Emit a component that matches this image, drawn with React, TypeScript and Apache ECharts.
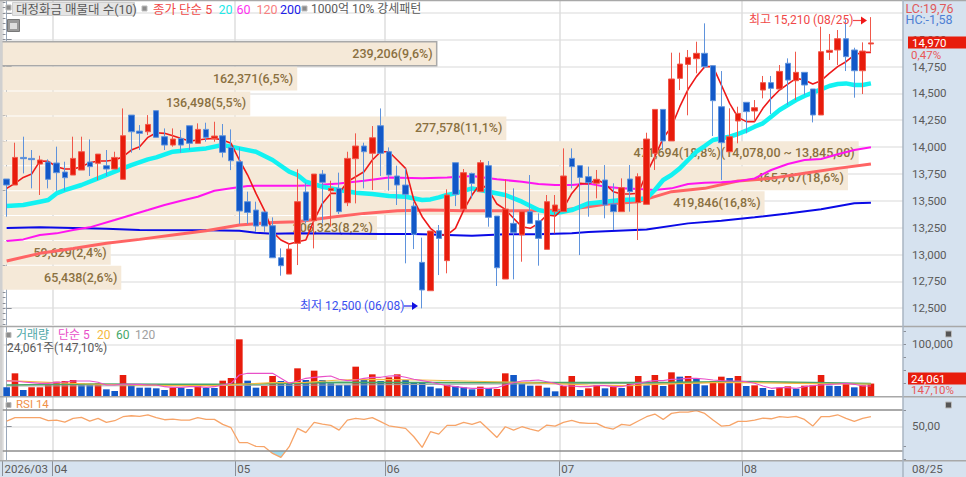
import React, { useEffect, useRef } from "react";
import * as echarts from "echarts";

const FONT = 'Roboto,"Noto Sans CJK KR",sans-serif';
const LABEL_FONT = 'Roboto,"Noto Sans CJK KR",sans-serif';

// [open, close, low, high]
const candles: number[][] = [
  [13703,13647,13352,13703],[13647,13904,13647,14041],[13904,13892,13755,14097],[13895,13883,13616,13973],[13842,13880,13554,13920],
  [13861,13700,13616,13886],[13852,13762,13594,14004],[13768,13715,13594,13864],[13740,13895,13740,14097],[13786,13957,13786,14097],
  [13861,13818,13731,14072],[13849,13935,13693,13935],[13827,13796,13731,13973],[13796,13904,13796,13957],[13700,14106,13700,14360],
  [14298,14143,13948,14298],[14149,14128,13973,14205],[14143,14211,14112,14298],[14339,14091,14091,14339],[14097,14019,13973,14174],
  [14019,14075,14004,14174],[14081,14019,13948,14159],[14199,14035,13973,14199],[14035,14165,14035,14221],[14165,14091,14050,14227],
  [14081,14103,14050,14236],[14106,13951,13904,14215],[13997,13873,13786,14165],[13864,13405,13284,13997],[13492,13392,13284,13585],
  [13414,13265,13212,13492],[13396,13265,13212,13396],[13268,12970,12970,13346],[12970,12896,12803,13057],[12818,13051,12818,13104],
  [13104,13492,12902,13793],[13582,13315,13290,13669],[13315,13749,13057,13749],[13749,13672,13290,13786],[13594,13616,13259,13687],
  [13616,13399,13377,13762],[13482,13895,13451,13957],[13892,14010,13476,14128],[14010,13957,13616,14041],[13942,14087,13600,14196],
  [14199,13942,13731,14360],[13957,13740,13594,13997],[13731,13647,13461,13827],[13647,13560,12918,13802],[13451,13188,13051,13492],
  [12927,12670,12499,13157],[12663,13219,12663,13219],[13222,13150,12809,13275],[12943,13554,12825,13607],[13855,13560,13451,13855],
  [13423,13762,13423,13796],[13755,13662,13523,13762],[13585,13855,13585,13880],[13827,13346,13259,13870],[13358,12877,12707,13358],
  [12772,13423,12772,13700],[13290,13206,12769,13616],[13182,13399,12933,13399],[13399,13290,13284,13740],[13315,13150,12896,13383],
  [13048,13492,13048,13554],[13399,13461,13197,13554],[13399,13731,13399,13988],[13895,13818,13616,13988],[13827,13718,12995,13827],
  [13725,13669,13352,13818],[13663,13700,13523,13787],[13694,13461,13337,13833],[13470,13399,13228,13663],[13399,13622,13399,13709],
  [13703,13585,13399,13833],[13483,13725,13135,13756],[13467,14075,13467,14134],[13942,14351,13787,14351],[14351,14057,13973,14351],
  [14057,14634,14057,14879],[14640,14773,14531,14879],[14770,14835,14296,14904],[14823,14873,14687,14981],[14873,14749,14733,15152],
  [14758,14432,14103,14758],[14376,14041,13694,14708],[13957,14097,13957,14361],[14243,14314,14035,14376],[14417,14330,14128,14417],
  [14336,14367,14237,14438],[14531,14600,14454,14662],[14600,14547,14308,14662],[14541,14705,14531,14764],[14780,14624,14392,14826],
  [14618,14696,14438,14888],[14696,14578,14485,14696],[14541,14299,14230,14541],[14299,14888,14299,15121],[14882,14901,14811,15053],
  [14904,15009,14764,15090],[15009,14842,14708,15189],[14904,14711,14460,14925],[14711,14894,14494,14975],[14960,14970,14888,15210],
];

const ma5 = [13616,13662,13718,13749,13870,13867,13818,13796,13796,13818,13855,13870,13870,13880,13911,13973,14004,14091,14134,14128,14106,14081,14056,14066,14075,14081,14066,14035,13880,13740,13569,13414,13212,13135,13098,13119,13135,13321,13476,13569,13569,13678,13724,13771,13880,13957,13957,13880,13802,13507,13352,13244,13182,13182,13244,13414,13554,13662,13600,13470,13420,13337,13259,13244,13290,13368,13358,13430,13569,13662,13657,13700,13657,13585,13563,13563,13570,13756,13911,14082,14190,14376,14538,14656,14749,14749,14578,14407,14277,14237,14237,14361,14454,14531,14587,14640,14624,14587,14618,14686,14749,14795,14857,14882,14882];

// moving averages read at sample sessions: [session, price]
const ma20: number[][] = [[0,13452],[2,13461],[4,13492],[5,13507],[6,13569],[7,13600],[9,13647],[11,13709],[13,13771],[15,13833],[17,13886],[18,13904],[20,13957],[22,13973],[24,13988],[26,14019],[28,13988],[30,13957],[32,13880],[34,13771],[35,13740],[36,13678],[38,13631],[40,13600],[42,13575],[44,13563],[46,13544],[48,13538],[50,13507],[51,13513],[52,13532],[53,13554],[54,13569],[56,13616],[58,13585],[60,13554],[62,13492],[64,13414],[66,13383],[68,13414],[70,13476],[72,13492],[74,13508],[76,13514],[77,13523],[78,13601],[79,13694],[80,13740],[81,13802],[82,13880],[83,13957],[84,14010],[85,14066],[86,14082],[87,14097],[88,14122],[89,14153],[90,14190],[91,14221],[92,14283],[93,14345],[94,14392],[95,14438],[96,14476],[97,14507],[98,14538],[99,14569],[100,14587],[101,14593],[102,14578],[103,14578],[104,14593]];
const ma60: number[][] = [[0,13126],[2,13141],[4,13182],[6,13197],[8,13228],[10,13253],[13,13321],[15,13368],[17,13414],[19,13461],[21,13501],[23,13538],[25,13594],[27,13616],[29,13638],[31,13641],[35,13641],[37,13644],[40,13662],[43,13687],[46,13718],[50,13709],[53,13718],[56,13731],[59,13700],[62,13678],[64,13656],[66,13647],[68,13647],[70,13662],[72,13632],[74,13616],[76,13610],[78,13601],[80,13616],[82,13656],[84,13669],[86,13672],[88,13681],[90,13709],[92,13787],[94,13843],[96,13880],[98,13889],[100,13933],[102,13973],[104,13998]];
const ma120: number[][] = [[0,12940],[4,13011],[8,13057],[12,13104],[16,13141],[20,13182],[24,13222],[28,13275],[32,13299],[35,13306],[39,13346],[43,13383],[47,13408],[51,13414],[55,13408],[59,13408],[63,13408],[67,13414],[70,13445],[72,13467],[76,13492],[80,13585],[84,13616],[88,13684],[92,13709],[96,13756],[100,13802],[104,13843]];
const ma200: number[][] = [[0,13247],[4,13253],[12,13240],[16,13228],[24,13225],[28,13222],[30,13203],[32,13194],[35,13197],[45,13191],[49,13191],[56,13175],[60,13188],[64,13188],[68,13197],[70,13209],[77,13234],[82,13290],[86,13315],[90,13346],[94,13383],[98,13421],[102,13477],[104,13483]];

const volume = [16770,43860,11610,16770,16770,21285,27735,29025,30960,24510,21285,24510,12900,9675,40635,21285,16125,16125,14835,11610,16125,16125,13545,19350,15480,15480,29670,34830,109650,29670,16125,19350,38700,29025,23220,53535,30960,49020,30960,24510,21285,21285,56760,32250,41925,29025,36120,41925,30960,26445,26445,18060,14835,21285,19350,16770,12900,18060,15480,13545,43860,40635,23220,19995,19995,16125,9030,19350,38700,11610,14835,21285,14835,18060,15480,23220,38700,20640,40635,19350,45795,37410,38700,33540,20640,29025,37410,34830,38700,19350,20640,15480,11610,16125,18705,14190,19995,20640,40635,19995,19350,23220,16770,20640,24061];
const volumeSide = "brbrrrrrrbbrbbrbbbbbrbbrbbrrrbbrrbbrbrbbbbrbrbrrbbbbbrbbbrbrrbbbrbbrrbrrbrbrrbrbrbrbbrrbrbrbbrrbrrrbbrbrr";

const volMa5 = [29025,29025,27090,25800,24510,24510,26445,27090,29025,29025,29025,26445,21285,21285,23220,22575,22575,21285,21285,18060,16770,16770,18060,18060,16770,18060,21285,24510,40635,43860,43860,43860,43860,34185,24510,29025,34185,36120,37410,38700,32250,29670,30960,34185,36120,36120,38700,39345,36120,32250,29670,27090,23220,19995,18060,16125,14835,14835,14835,16125,21285,25800,29025,29670,30960,27735,24510,19350,19350,18060,18060,19995,19995,18060,18060,21285,24510,27735,29670,29670,32250,32895,34185,34185,32895,30960,29670,29025,29025,27735,24510,19350,14835,16125,16125,14835,18060,19995,21285,22575,23220,24510,22575,19350,19350];
const volMa20: number[][] = [[0,29670],[5,26445],[10,23220],[15,21285],[20,19995],[25,19995],[28,22575],[32,25800],[36,26445],[40,30960],[44,32250],[50,30960],[55,29025],[60,27090],[65,24510],[70,21285],[75,19995],[78,22575],[85,25800],[90,25800],[95,24510],[100,23220],[104,23220]];
const volMa60: number[][] = [[0,21285],[10,23220],[20,22575],[30,23220],[40,26445],[50,25800],[60,25800],[70,25800],[80,26445],[90,27735],[97,25800],[104,23865]];
const volMa120: number[][] = [[0,19350],[20,19995],[40,21285],[60,23220],[80,24510],[90,27735],[104,23220]];

const rsi = [56.5,60.6,60.6,60.6,60.6,56.9,57.7,55.2,59.7,61,56.5,59.7,54.8,56.9,61.8,63,62.2,64.2,60.6,58.1,58.9,57.7,57.7,60.6,58.5,58.5,52.4,48.3,29.9,29.9,25.4,25,16.8,11.9,25,47.5,42.2,54.8,52.8,51.2,45.4,57.7,59.7,58.5,60.6,55.7,50.7,49.1,47.5,37.2,24.2,43.4,40.5,51.2,51.2,54.8,52.4,55.7,46.2,36.4,49.5,45.4,49.5,46.7,44.2,51.6,50.3,54.8,57.3,54.4,53.6,53.6,48.7,46.7,52.4,51.2,56.5,61.8,65.1,58.5,65.9,67.5,67.5,69.2,65.9,57.7,50.3,51.2,56.1,56.1,57.7,60.2,59.3,61.8,61,62.2,58.5,50.3,61.8,61.8,64.2,59.7,56.1,59.7,61.8];
const rsiOversold: number[][] = [[31.6,20],[32,16.8],[33,11.9],[33.62,20]];

const monthTicks = [-0.5, 5.5, 27.5, 45.5, 66.5, 88.5];
const monthLabels = ["2026/03", "04", "05", "06", "07", "08"];

const priceTicks = [12500,12750,13000,13250,13500,13750,14000,14250,14500,14750,15000,15250];
const priceLabels = [12500,12750,13000,13250,13500,13750,14000,14250,14500,14750,15000];

// volume profile rows: [volume, top price, bottom price]
const profile: number[][] = [
  [239206,14981,14749],[162371,14749,14517],[136498,14517,14286],[277578,14286,14054],[471694,14054,13822],
  [465767,13822,13590],[419846,13590,13358],[206323,13358,13127],[59629,13127,12895],[65438,12895,12663],
];
const profileLabels = ["239,206(9,6%)","162,371(6,5%)","136,498(5,5%)","277,578(11,1%)","471,694(18,8%)(14,078,00 ~ 13,845,00)","465,767(18,6%)","419,846(16,8%)","206,323(8,2%)","59,629(2,4%)","65,438(2,6%)"];

const range = (a: number, b: number, s: number) => { const r: number[] = []; for (let v = a; v <= b; v += s) r.push(v); return r; };
const fmt = (v: number) => Math.round(v).toString().replace(/\B(?=(\d{3})+$)/g, ",");

const txt = (text: string, x: number, y: number, fill: string, size = 12, extra: any = {}) => ({
  type: "text", z: 100, x, y,
  style: { text, fill, fontSize: size, fontFamily: FONT, textVerticalAlign: "middle", ...extra },
});
const sq = (x: number, y: number, size = 5, fill = "#8c8c8c") => ({ type: "rect", z: 99, shape: { x, y, width: size, height: size }, style: { fill, stroke: "#bbb", lineWidth: 1 } });
const hline = (y: number, x1 = 0, x2 = 966, c = "#a8a8a8", w = 1.5) => ({ type: "line", z: 60, shape: { x1, y1: y, x2, y2: y }, style: { stroke: c, lineWidth: w } });

const PANEL = "#d6e2ef";
const TICK_SIZE = 11.5;
const axisCommon = (gridIndex: number) => ({
  gridIndex, type: "value", position: "right", scale: true,
  axisLine: { show: true, lineStyle: { color: "#9aa8ba", width: 1 } },
  axisTick: { show: true, length: 5, lineStyle: { color: "#8a8f98" } },
  axisLabel: { show: true, color: "#5a5a5a", fontSize: TICK_SIZE, fontFamily: FONT, margin: 9, formatter: (v: number) => fmt(v) },
  splitLine: { show: true, lineStyle: { color: "#e6e6e6", width: 1.5 } },
});
const minorAxis = (gridIndex: number, min: number, max: number, values: number[]) => ({
  gridIndex, type: "value", position: "right", min, max,
  axisLine: { show: false }, splitLine: { show: false }, axisLabel: { show: false },
  axisTick: { show: true, length: 3, customValues: values, lineStyle: { color: "#8a8f98" } },
});
const xCommon = (gridIndex: number, labels: boolean) => ({
  gridIndex, type: "value", min: -0.5, max: 107.86,
  axisLine: { show: false },
  axisTick: labels ? { show: true, length: 16, customValues: monthTicks, lineStyle: { color: "#8a8f98" } } : { show: false, customValues: monthTicks },
  axisLabel: labels ? {
    show: true, customValues: monthTicks, color: "#5a5a5a", fontSize: TICK_SIZE, fontFamily: FONT, margin: 3, align: "left", padding: [0, 0, 0, 2],
    showMinLabel: true, showMaxLabel: true,
    formatter: (v: number) => monthLabels[monthTicks.indexOf(v)] ?? "",
  } : { show: false, customValues: monthTicks },
  splitLine: { show: true, lineStyle: { color: "#dedede", width: 1.5 } },
});
const lineSeries = (data: any, color: string, width: number, xAxisIndex: number, yAxisIndex: number, z = 2) => ({
  type: "line", data, xAxisIndex, yAxisIndex, symbol: "none", z, silent: true,
  lineStyle: { color, width }, itemStyle: { color },
});

export default function App() {
  const ref = useRef<HTMLDivElement>(null);
  useEffect(() => {
    document.body.style.margin = "0";
    const chart = echarts.init(ref.current!, undefined, { renderer: "svg" });
    const indexed = (a: number[]) => a.map((v, i) => [i, v]);
    chart.setOption({
      animation: false,
      backgroundColor: "#ffffff",
      grid: [
        { left: 2.5, right: 63, top: 1, height: 324 },
        { left: 2.5, right: 63, top: 327, height: 69 },
        { left: 2.5, right: 63, top: 397, height: 63 },
      ],
      xAxis: [
        xCommon(0, false), xCommon(1, false), xCommon(2, true),
        { gridIndex: 0, type: "value", min: 0, max: 496100, show: false },
      ],
      yAxis: [
        { ...axisCommon(0), min: 12344, max: 15360,
          axisTick: { show: true, length: 5, customValues: priceTicks, lineStyle: { color: "#8a8f98" } },
          axisLabel: { ...axisCommon(0).axisLabel, customValues: priceLabels } },
        { ...axisCommon(1), min: 0, max: 133500,
          splitLine: { show: true, lineStyle: { color: "#e6e6e6", width: 1.5 } },
          axisTick: { show: true, length: 5, customValues: [100000], lineStyle: { color: "#8a8f98" } },
          axisLabel: { ...axisCommon(1).axisLabel, customValues: [100000] } },
        { ...axisCommon(2), min: 8.7, max: 86,
          axisTick: { show: true, length: 5, customValues: [50], lineStyle: { color: "#8a8f98" } },
          axisLabel: { ...axisCommon(2).axisLabel, customValues: [50], formatter: () => "50,00" } },
        minorAxis(0, 12344, 15360, range(12350, 15350, 50)),
        minorAxis(1, 0, 133500, range(0, 125000, 25000)),
        minorAxis(2, 8.7, 86, [10, 25, 70]),
      ],
      series: [
        {
          type: "custom", coordinateSystem: "cartesian2d", xAxisIndex: 3, yAxisIndex: 0, z: 1, silent: true,
          data: profile, clip: false,
          encode: { x: 0, y: 1 },
          renderItem: (params: any, api: any) => {
            const a = api.coord([0, api.value(1)]);
            const b = api.coord([api.value(0), api.value(2)]);
            const top = params.dataIndex === 0;
            return {
              type: "group",
              children: [
                { type: "rect", shape: { x: a[0] - 1, y: a[1], width: b[0] - a[0] + 1, height: b[1] - a[1] - 1 },
                  style: { fill: "#f5e9d8", stroke: top ? "#a9a9a9" : "none", lineWidth: top ? 1.5 : 0 } },
                { type: "text", style: { text: profileLabels[params.dataIndex], x: b[0] - 4, y: (a[1] + b[1]) / 2 - 1,
                  textAlign: "right", textVerticalAlign: "middle", fill: "#8a7040", fontSize: 12.5, fontWeight: 500, fontFamily: LABEL_FONT } },
              ],
            };
          },
        },
        lineSeries(ma200, "#0a0ae6", 2, 0, 0),
        lineSeries(ma120, "#ff6464", 3, 0, 0),
        lineSeries(ma60, "#ff14f0", 2, 0, 0),
        lineSeries(ma20, "#12f2f2", 4.5, 0, 0),
        lineSeries(indexed(ma5), "#ee1a1a", 1.6, 0, 0),
        {
          type: "candlestick", xAxisIndex: 0, yAxisIndex: 0, z: 3, silent: true, barWidth: 6,
          encode: { x: 0, y: [1, 2, 3, 4] },
          data: candles.map((c, i) => [i, ...c]),
          itemStyle: { color: "#e81c0c", color0: "#1258c8", borderColor: "#f0584a", borderColor0: "#5f93dc", borderWidth: 1 },
        },
        {
          type: "bar", xAxisIndex: 1, yAxisIndex: 1, barWidth: 6.6, z: 1, silent: true,
          data: volume.map((v, i) => ({ value: [i, v], itemStyle: { color: volumeSide[i] === "r" ? "#e81c0c" : "#1258c8" } })),
        },
        lineSeries(volMa120, "#a8a8a8", 1, 1, 1),
        lineSeries(volMa60, "#4aa868", 1.6, 1, 1),
        lineSeries(volMa20, "#f5b840", 1.2, 1, 1),
        lineSeries(indexed(volMa5), "#e850c8", 1.1, 1, 1),
        {
          ...lineSeries(rsiOversold, "#e89a60", 0.1, 2, 2, 1),
          areaStyle: { color: "#9fdcf0", opacity: 1, origin: 20 },
        },
        {
          ...lineSeries(indexed(rsi), "#f7a468", 1.3, 2, 2),
          markLine: {
            silent: true, symbol: "none", label: { show: false }, animation: false,
            lineStyle: { color: "#8e8e8e", width: 1.5, type: "solid" },
            data: [{ yAxis: 70 }, { yAxis: 20 }],
          },
        },
      ],
      graphic: [
        { type: "rect", z: -10, shape: { x: 903, y: 0, width: 63, height: 477 }, style: { fill: PANEL } },
        { type: "rect", z: -10, shape: { x: 0, y: 461, width: 966, height: 16 }, style: { fill: PANEL } },
        { type: "rect", z: 55, shape: { x: 0, y: 0, width: 2.5, height: 461 }, style: { fill: "#d0d0d0" } },
        hline(0.5), hline(326.5), hline(396.8), hline(460.8),
        { type: "line", z: 60, shape: { x1: 903, y1: 0, x2: 903, y2: 477 }, style: { stroke: "#a9b4c2", lineWidth: 1.5 } },

        sq(6, 5), { type: "rect", z: 98, shape: { x: 12.5, y: 2.5, width: 122, height: 13 }, style: { fill: "#e4e4e4", stroke: "#cfcfcf", lineWidth: 1 } },
        txt("대정화금 매물대 수(10)", 16, 9, "#5a5a5a", 12.5),
        sq(142, 6), txt("종가 단순 5", 153, 9, "#f04848", 12.5),
        txt("20", 218.5, 9, "#22e8e8", 12.5), txt("60", 236.5, 9, "#ff30f0", 12.5),
        txt("120", 256.5, 9, "#f88080", 12.5), txt("200", 280, 9, "#2020e8", 12.5),
        sq(302, 6), txt("1000억 10% 강세패턴", 311, 9, "#5a5a5a", 12),
        { type: "rect", z: 99, shape: { x: 7.5, y: 19.5, width: 12, height: 12 }, style: { fill: "#999", stroke: "#777", lineWidth: 1 } },
        { type: "rect", z: 99, shape: { x: 10, y: 23, width: 7, height: 6 }, style: { fill: "#ddd", stroke: "none" } },

        txt("LC:19,76", 905.5, 8, "#e05a5a", 12.5),
        txt("HC:-1,58", 905.5, 19, "#4f80d4", 12.5),
        { type: "rect", z: 90, shape: { x: 908, y: 36.5, width: 58, height: 12 }, style: { fill: "#e81c0c" } },
        txt("14,970", 912, 43, "#ffffff", TICK_SIZE),
        txt("0,47%", 911, 55, "#e85858", TICK_SIZE),
        { type: "rect", z: 90, shape: { x: 908, y: 372.5, width: 58, height: 12 }, style: { fill: "#e81c0c" } },
        txt("24,061", 911, 379, "#ffffff", TICK_SIZE),
        txt("147,10%", 911, 390, "#e85858", TICK_SIZE),
        sq(955.5 - 10, 331, 6, "#555"), sq(955.5 - 10, 402, 6, "#555"),
        txt("08/25", 912, 469, "#5a5a5a", TICK_SIZE),

        txt("최고 15,210 (08/25)", 749, 20, "#f04848", 12),
        { type: "line", z: 100, shape: { x1: 853, y1: 20.5, x2: 862, y2: 20.5 }, style: { stroke: "#f04848", lineWidth: 1.2 } },
        { type: "polygon", z: 100, shape: { points: [[861, 16.5], [867, 20.5], [861, 24.5]] }, style: { fill: "#f01818" } },
        txt("최저 12,500 (06/08)", 300, 305.5, "#3a50f0", 12),
        { type: "line", z: 100, shape: { x1: 404, y1: 306, x2: 413, y2: 306 }, style: { stroke: "#2222e8", lineWidth: 1.2 } },
        { type: "polygon", z: 100, shape: { points: [[412, 302], [418, 306], [412, 310]] }, style: { fill: "#1010e0" } },

        sq(6, 332.5), txt("거래량", 16, 335, "#50a8a8", 12), txt("단순 5", 58, 335, "#e850c8", 12),
        txt("20", 97, 335, "#f5b840", 12), txt("60", 116, 335, "#44a868", 12), txt("120", 135, 335, "#a0a0a0", 12),
        txt("24,061주(147,10%)", 7, 348, "#5a5a5a", 12),
        sq(6, 402.5), txt("RSI 14", 16, 404, "#f09048", 11.5),
      ],
    });
    return () => chart.dispose();
  }, []);
  return <div ref={ref} style={{ position: "fixed", left: 0, top: 0, width: 966, height: 477 }} />;
}
